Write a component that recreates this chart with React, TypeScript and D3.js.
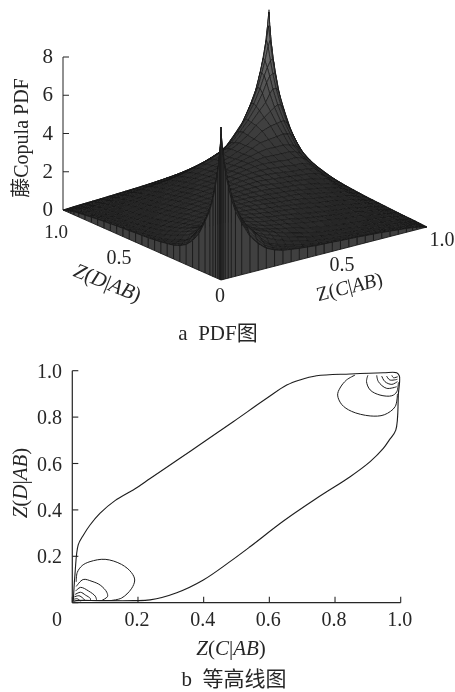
import React from "react";
import * as d3 from "d3";

// ---- surface: grid nodes along each axis and heights
const gridNodes = [0,.004,.01,.02,.035,.05,.07,.1,.14,.18,.22,.26,.3,.34,.38,.42,.46,.5,.54,.58,.62,.66,.7,.74,.78,.82,.86,.9,.93,.95,.965,.98,.99,.996,1];
// height along the two front edges (the curve on top of the curtain)
const frontEdge = [8,7,6.4,5.6,4.8,4.1,3.4,2.7,1.9,1.4,1.05,.85,.72,.66,.6,.56,.52,.5,.48,.45,.43,.41,.38,.35,.32,.28,.24,.2,.16,.12,.09,.06,.03,.01,0];
// one triangular sector of the surface (u<=v, u+v<=1); the rest repeats by symmetry
const sectorRows: number[][] = [
[8,7,6.4,5.6,4.8,4.1,3.4,2.7,1.9,1.35,1,.8,.62,.5,.42,.36,.31,.27,.24,.21,.18,.16,.14,.12,.1,.08,.06,.05,.04,.03,.02,.01,.005,.002,0],
[7.6,6.9,6,5.1,4.4,3.6,2.85,2,1.45,1.05,.82,.68,.58,.48,.4,.34,.3,.26,.23,.2,.18,.16,.14,.12,.1,.085,.07,.055,.045,.035,.025,.015,.008],
[6.9,6.2,5.3,4.6,3.8,3,2.15,1.6,1.15,.92,.75,.62,.52,.44,.38,.33,.29,.25,.22,.19,.17,.15,.13,.11,.095,.08,.065,.05,.04,.03,.02],
[5.9,5.2,4.6,3.9,3.15,2.35,1.8,1.3,1.02,.85,.7,.58,.49,.42,.37,.33,.29,.25,.22,.2,.17,.15,.13,.11,.09,.07,.06,.05,.04],
[4.9,4.5,3.9,3.2,2.5,1.95,1.45,1.05,.9,.76,.63,.53,.46,.4,.35,.31,.27,.24,.21,.19,.17,.15,.13,.11,.09,.08,.07],
[4.2,3.7,3.1,2.5,2,1.55,1.3,1.1,.95,.8,.68,.58,.5,.44,.39,.35,.31,.27,.24,.21,.18,.16,.14,.12,.11],
[3.3,2.95,2.45,2.05,1.62,1.4,1.25,1.08,.95,.83,.72,.62,.54,.48,.43,.38,.34,.3,.27,.24,.21,.18,.16],
[2.7,2.4,2,1.7,1.5,1.35,1.18,1.05,.93,.82,.72,.63,.56,.5,.45,.4,.35,.31,.28,.25,.22],
[2.25,1.95,1.7,1.5,1.32,1.2,1.1,1.02,.92,.82,.73,.65,.58,.52,.46,.41,.37,.33,.3],
[1.9,1.72,1.52,1.38,1.25,1.14,1.07,1,.91,.83,.76,.7,.64,.58,.52,.47,.42],
[1.65,1.55,1.42,1.3,1.2,1.12,1.05,.99,.9,.82,.75,.69,.63,.57,.52],
[1.5,1.44,1.35,1.26,1.17,1.1,1.05,.98,.9,.82,.75,.69,.63],
[1.42,1.37,1.3,1.22,1.15,1.1,1.05,1,.92,.85,.78],
[1.36,1.33,1.27,1.2,1.14,1.09,1.04,.98,.91],
[1.32,1.3,1.25,1.19,1.13,1.08,1.04],
[1.28,1.27,1.23,1.18,1.12],
[1.26,1.25,1.21],
[1.25],
];
const backPeak = 7.7;
const zTicks = [0,2,4,6,8];

// ---- contour panel
const outerContour: [number,number][] = [[.003,.005],[.008,.12],[.018,.249],[.034,.292],[.054,.335],[.084,.385],[.13,.44],[.19,.49],[.237,.535],[.32,.615],[.409,.701],[.49,.78],[.592,.881],[.653,.938],[.693,.96],[.744,.978],[.846,.986],[.947,.991],[.988,.991],[.996,.977],[.993,.9],[.985,.744],[.965,.701],[.947,.665],[.907,.608],[.846,.543],[.744,.45],[.643,.352],[.541,.241],[.48,.177],[.399,.098],[.318,.043],[.237,.012],[.186,.009],[.084,.009],[.013,.009],[.003,.005]];
const upperContours: [number,number][][] = [
[[.861,.981],[.835,.96],[.815,.925],[.808,.895],[.82,.855],[.85,.825],[.907,.805],[.95,.81],[.983,.845],[.99,.9]],
[[.9,.98],[.896,.953],[.907,.917],[.937,.895],[.973,.892],[.988,.909],[.993,.95]],
[[.927,.98],[.932,.953],[.957,.924],[.988,.931]],
[[.942,.977],[.952,.953],[.973,.941],[.99,.953]],
[[.957,.977],[.967,.96],[.99,.963]],
[[.973,.98],[.978,.97],[.991,.974]],
];
const lowerContours: [number,number][][] = [
[[.012,.09],[.015,.13],[.03,.16],[.054,.177],[.1,.187],[.15,.165],[.18,.13],[.19,.098],[.18,.06],[.15,.02],[.12,.01]],
[[.012,.07],[.033,.1],[.06,.092],[.085,.076],[.105,.045],[.107,.026],[.09,.01]],
[[.01,.05],[.025,.066],[.05,.05],[.07,.028],[.074,.012]],
[[.008,.035],[.025,.045],[.04,.033],[.055,.018],[.055,.008]],
[[.006,.025],[.02,.03],[.032,.02],[.04,.008]],
[[.005,.015],[.015,.017],[.025,.007]],
];
const contourTicks = [0,.2,.4,.6,.8,1];
const contourTickLabels = ["0","0.2","0.4","0.6","0.8","1.0"];

const serif = '"Liberation Serif","Noto Sans CJK SC",serif';
const INK = "#262626";

const n = gridNodes.length - 1;
function height(i: number, j: number) {
  if (i === n && j === n) return backPeak;
  if (i === 0) return frontEdge[j];
  if (j === 0) return frontEdge[i];
  let a = Math.min(i, j), b = Math.max(i, j);
  if (a + b > n) { const a2 = n - b, b2 = n - a; a = a2; b = b2; }
  return sectorRows[a][b - a];
}

const origin = { x: 221, y: 280 };
const uX = d3.scaleLinear().domain([0,1]).range([0,206]);
const vX = d3.scaleLinear().domain([0,1]).range([0,-158]);
const uY = d3.scaleLinear().domain([0,1]).range([0,-53]);
const vY = d3.scaleLinear().domain([0,1]).range([0,-70]);
const zY = d3.scaleLinear().domain([0,8]).range([0,-153]);
const project = (u: number, v: number, z: number): [number,number] => [
  origin.x + uX(u) + vX(v),
  origin.y + uY(u) + vY(v) + zY(z),
];

const px = d3.scaleLinear().domain([0,1]).range([72.3,400.7]);
const py = d3.scaleLinear().domain([0,1]).range([602.7,370.7]);
const contourLine = d3.line<[number,number]>().x(d=>px(d[0])).y(d=>py(d[1])).curve(d3.curveCatmullRom.alpha(0.5));

const polyPts = (pts: [number,number][]) => pts.map(p=>p[0].toFixed(2)+","+p[1].toFixed(2)).join(" ");

function Surface() {
  const cells: React.ReactNode[] = [];
  for (let i = n-1; i >= 0; i--) for (let j = n-1; j >= 0; j--) {
    const zs = [height(i,j),height(i+1,j),height(i+1,j+1),height(i,j+1)];
    const m = d3.mean(zs)!;
    const g = Math.round(Math.min(150, 32 + 13*m));
    const pts: [number,number][] = [
      project(gridNodes[i],gridNodes[j],zs[0]),
      project(gridNodes[i+1],gridNodes[j],zs[1]),
      project(gridNodes[i+1],gridNodes[j+1],zs[2]),
      project(gridNodes[i],gridNodes[j+1],zs[3]),
    ];
    cells.push(<polygon key={i+"-"+j} points={polyPts(pts)} fill={`rgb(${g},${g},${g})`} stroke="#191919" strokeWidth={0.7}/>);
  }
  const curtain: React.ReactNode[] = [];
  for (let k = n-1; k >= 0; k--) {
    const a = gridNodes[k], b = gridNodes[k+1];
    const L: [number,number][] = [project(0,a,0),project(0,b,0),project(0,b,height(0,k+1)),project(0,a,height(0,k))];
    const R: [number,number][] = [project(a,0,0),project(b,0,0),project(b,0,height(k+1,0)),project(a,0,height(k,0))];
    curtain.push(<polygon key={"l"+k} points={polyPts(L)} fill="#404040" stroke="#1c1c1c" strokeWidth={0.9}/>);
    curtain.push(<polygon key={"r"+k} points={polyPts(R)} fill="#404040" stroke="#1c1c1c" strokeWidth={0.9}/>);
  }
  return <g>{cells}{curtain}</g>;
}

export default function App() {
  const axisX = project(0,1,0)[0];
  const axisY = project(0,1,0)[1];
  return (
    <svg width={455} height={692} viewBox="0 0 455 692"
      style={{position:"absolute",left:0,top:0,background:"#fff"}} fontFamily={serif} fill={INK}>
      <defs>
        <filter id="soft" x="0" y="0" width="100%" height="100%">
          <feGaussianBlur stdDeviation="0.4"/>
        </filter>
      </defs>
      <g filter="url(#soft)">
        {/* upper panel */}
        <line x1={axisX} x2={axisX} y1={axisY} y2={axisY+zY(8)} stroke={INK} strokeWidth={1}/>
        {zTicks.map(t=>(
          <g key={t}>
            <line x1={axisX} x2={axisX+6} y1={axisY+zY(t)} y2={axisY+zY(t)} stroke={INK} strokeWidth={1}/>
            <text x={53} y={axisY+zY(t)+6} textAnchor="end" fontSize={21}>{t}</text>
          </g>
        ))}
        <Surface/>
        <text transform="translate(28,138) rotate(-90)" textAnchor="middle" fontSize={20}>藤Copula PDF</text>
        <text x={56} y={238} textAnchor="middle" fontSize={19}>1.0</text>
        <text x={119} y={264} textAnchor="middle" fontSize={20}>0.5</text>
        <text x={220} y={302} textAnchor="middle" fontSize={20}>0</text>
        <text x={342} y={271} textAnchor="middle" fontSize={20}>0.5</text>
        <text x={442} y={246} textAnchor="middle" fontSize={20}>1.0</text>
        <text transform="translate(105,289) rotate(22)" textAnchor="middle" fontSize={21}>
          <tspan fontStyle="italic">Z</tspan>(<tspan fontStyle="italic">D</tspan>|<tspan fontStyle="italic">AB</tspan>)
        </text>
        <text transform="translate(351,293) rotate(-14)" textAnchor="middle" fontSize={20}>
          Z(<tspan fontStyle="italic">C</tspan>|<tspan fontStyle="italic">AB</tspan>)
        </text>
        <text x={218} y={340} textAnchor="middle" fontSize={21} xmlSpace="preserve">a  PDF图</text>

        {/* lower panel */}
        <line x1={px(0)} x2={px(0)} y1={py(0)} y2={py(1)} stroke={INK} strokeWidth={1.2}/>
        <line x1={px(0)} x2={px(1)} y1={py(0)} y2={py(0)} stroke={INK} strokeWidth={1.2}/>
        {contourTicks.map((t,i)=>(
          <g key={t}>
            <line x1={px(t)} x2={px(t)} y1={py(0)} y2={py(0)-6} stroke={INK} strokeWidth={1.1}/>
            <line x1={px(0)} x2={px(0)+6} y1={py(t)} y2={py(t)} stroke={INK} strokeWidth={1.1}/>
            <text x={i===0?57:px(t)-1} y={626} textAnchor="middle" fontSize={20}>{contourTickLabels[i]}</text>
            {i>0 && <text x={62} y={py(t)+7} textAnchor="end" fontSize={20}>{contourTickLabels[i]}</text>}
          </g>
        ))}
        <path d={contourLine(outerContour)!} fill="none" stroke="#1c1c1c" strokeWidth={1.1}/>
        {upperContours.concat(lowerContours).map((c,i)=>(
          <path key={i} d={contourLine(c)!} fill="none" stroke="#1c1c1c" strokeWidth={1}/>
        ))}
        <text x={231} y={655} textAnchor="middle" fontSize={21}>
          <tspan fontStyle="italic">Z</tspan>(<tspan fontStyle="italic">C</tspan>|<tspan fontStyle="italic">AB</tspan>)
        </text>
        <text transform="translate(27,483) rotate(-90)" textAnchor="middle" fontSize={21}>
          <tspan fontStyle="italic">Z</tspan>(<tspan fontStyle="italic">D</tspan>|<tspan fontStyle="italic">AB</tspan>)
        </text>
        <text x={234} y={686} textAnchor="middle" fontSize={21} xmlSpace="preserve">b  等高线图</text>
      </g>
    </svg>
  );
}
